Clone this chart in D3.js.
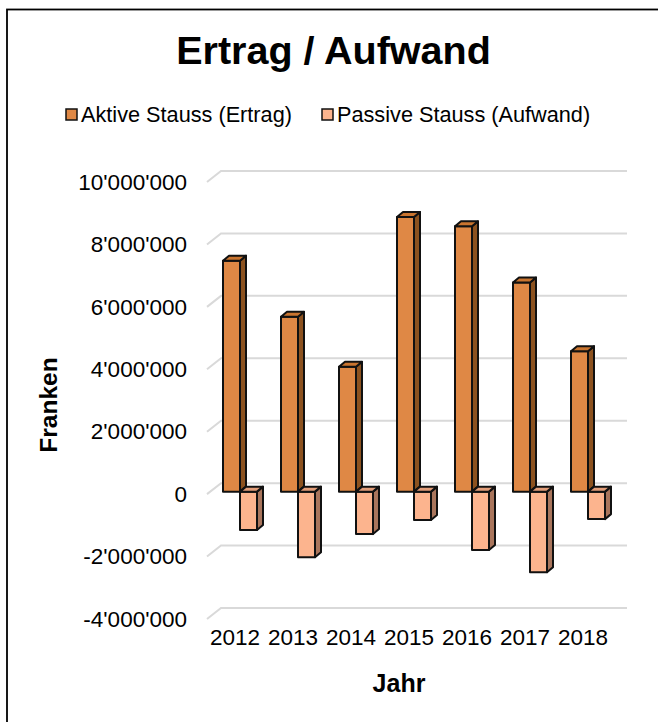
<!DOCTYPE html>
<html>
<head>
<meta charset="utf-8">
<style>
  body { margin: 0; background: #fff; }
  svg text { font-family: "Liberation Sans", Arial, sans-serif; fill: #000; }
  .grid { stroke: #d9d9d9; stroke-width: 2px; fill: none; }
  .bar path { stroke: #111; stroke-width: 2px; stroke-linejoin: round; }
</style>
</head>
<body>
<div id="chart"></div>
<script src="https://d3js.org/d3.v7.min.js"></script>
<script>
// data
var years   = ['2012', '2013', '2014', '2015', '2016', '2017', '2018'];
var ertrag  = [7400000, 5600000, 4000000, 8800000, 8500000, 6700000, 4500000];
var aufwand = [-1230000, -2100000, -1360000, -910000, -1870000, -2580000, -880000];
var yTicks  = [-4000000, -2000000, 0, 2000000, 4000000, 6000000, 8000000, 10000000];
var series  = ['Aktive Stauss (Ertrag)', 'Passive Stauss (Aufwand)'];

(function () {
  var
    width  = 658,
    height = 722,
    depthX = 14,    // floor depth of the gridlines
    depthY = -11,
    barDx  = 6,     // bar thickness
    barDy  = -5;

  var colors = [
    { front: '#df8845', top: '#c9742f', side: '#8c521f' },
    { front: '#fcb48e', top: '#e29d79', side: '#a9755c' }
  ];

  var fmt = d3.formatLocale({
    decimal: '.', thousands: "'", grouping: [3], currency: ['', ''], minus: '-'
  }).format(',d');

  var svg = d3.select('#chart').append('svg')
    .attr('width', width)
    .attr('height', height);

  svg.append('rect')                           // chart border
    .attr('x', 7).attr('y', 9.5)
    .attr('width', 700).attr('height', 800)
    .attr('fill', 'none')
    .attr('stroke', '#000')
    .attr('stroke-width', 1.8);

  var x = d3.scaleBand()
    .domain(years)
    .range([211, 617]);

  var xSub = d3.scaleBand()
    .domain(series)
    .range([12, 46]);

  var yFront = d3.scaleLinear()                // front edge of the floor
    .domain([-4000000, 10000000])
    .range([619, 182]);

  var yBar = d3.scaleLinear()                  // plane of the bar front faces
    .domain([-4000000, 10000000])
    .range([616.5, 179.5]);

  // gridlines: short diagonal on the left wall, then along the back wall
  svg.append('g')
    .selectAll('path')
    .data(yTicks)
    .join('path')
    .attr('class', 'grid')
    .attr('d', function (v) {
      var yf = yFront(v);
      return 'M207,' + yf + 'L' + (207 + depthX) + ',' + (yf + depthY) +
             'L627,' + (yf + depthY);
    });

  // y axis labels
  var yAxis = svg.append('g')
    .attr('transform', 'translate(207,0)')
    .call(d3.axisLeft(yFront).tickValues(yTicks).tickFormat(fmt).tickSize(0).tickPadding(20));
  yAxis.select('.domain').remove();
  yAxis.selectAll('text')
    .attr('font-size', 22.5)
    .attr('font-family', '"Liberation Sans", Arial, sans-serif')
    .attr('fill', '#000');

  // x axis labels
  var xAxis = svg.append('g')
    .attr('transform', 'translate(-5,629)')
    .call(d3.axisBottom(x).tickSize(0).tickPadding(0));
  xAxis.select('.domain').remove();
  xAxis.selectAll('text')
    .attr('font-size', 22.5)
    .attr('font-family', '"Liberation Sans", Arial, sans-serif')
    .attr('fill', '#000')
    .attr('dy', '0.72em');

  // bars
  function box(x0, x1, y0, y1) {
    var top = Math.min(y0, y1), bot = Math.max(y0, y1);
    return {
      front: 'M' + x0 + ',' + top + 'H' + x1 + 'V' + bot + 'H' + x0 + 'Z',
      side:  'M' + x1 + ',' + top + 'L' + (x1 + barDx) + ',' + (top + barDy) +
             'V' + (bot + barDy) + 'L' + x1 + ',' + bot + 'Z',
      top:   'M' + x0 + ',' + top + 'L' + (x0 + barDx) + ',' + (top + barDy) +
             'H' + (x1 + barDx) + 'L' + x1 + ',' + top + 'Z'
    };
  }

  var rows = [];
  years.forEach(function (yr, i) {
    rows.push({ year: yr, s: 0, v: ertrag[i] });
    rows.push({ year: yr, s: 1, v: aufwand[i] });
  });

  var bars = svg.append('g').selectAll('g')
    .data(rows)
    .join('g')
    .attr('class', 'bar');

  bars.each(function (d) {
    var g = d3.select(this),
        x0 = x(d.year) + xSub(series[d.s]),
        x1 = x0 + xSub.bandwidth(),
        b = box(x0, x1, yBar(0), yBar(d.v)),
        c = colors[d.s];
    g.append('path').attr('d', b.front).attr('fill', c.front);
    g.append('path').attr('d', b.side).attr('fill', c.side);
    g.append('path').attr('d', b.top).attr('fill', c.top);
  });

  // title
  svg.append('text')
    .text('Ertrag / Aufwand')
    .attr('x', 333.5)
    .attr('y', 64)
    .attr('text-anchor', 'middle')
    .attr('font-size', 39.5)
    .attr('font-weight', 'bold');

  // legend
  var legX = [66, 322];
  var leg = svg.append('g').selectAll('g')
    .data(series)
    .join('g')
    .attr('transform', function (d, i) { return 'translate(' + legX[i] + ',109)'; });
  leg.append('rect')
    .attr('width', 11).attr('height', 11)
    .attr('fill', function (d, i) { return colors[i].front; })
    .attr('stroke', '#111')
    .attr('stroke-width', 1.5);
  leg.append('text')
    .text(function (d) { return d; })
    .attr('x', 15)
    .attr('y', 12.5)
    .attr('font-size', 21.7);

  // axis titles
  svg.append('text')
    .text('Franken')
    .attr('transform', 'translate(57,405) rotate(-90)')
    .attr('text-anchor', 'middle')
    .attr('font-size', 24.5)
    .attr('font-weight', 'bold');

  svg.append('text')
    .text('Jahr')
    .attr('x', 399)
    .attr('y', 692)
    .attr('text-anchor', 'middle')
    .attr('font-size', 25)
    .attr('font-weight', 'bold');
})();
</script>
</body>
</html>
